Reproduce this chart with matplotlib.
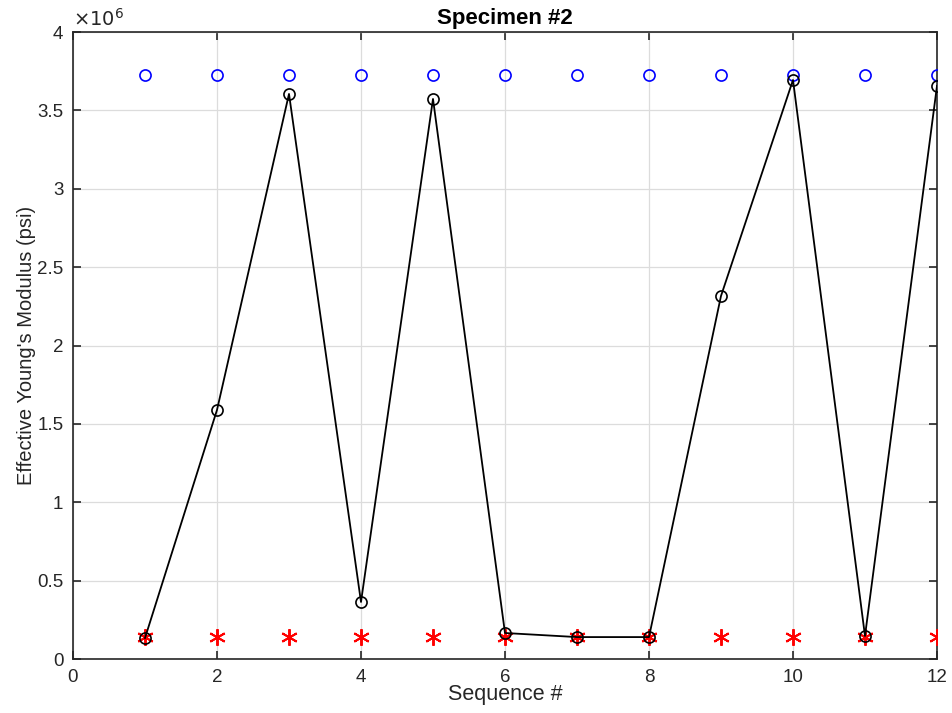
import matplotlib
matplotlib.use("Agg")
import matplotlib.pyplot as plt
from matplotlib.ticker import FuncFormatter

# data
seq = [1, 2, 3, 4, 5, 6, 7, 8, 9, 10, 11, 12]
measured = [0.134e6, 1.589e6, 3.605e6, 0.364e6, 3.573e6, 0.166e6,
            0.140e6, 0.140e6, 2.316e6, 3.694e6, 0.147e6, 3.656e6]
upper = [3.726e6] * 12
lower = [0.140e6] * 12

plt.rcParams['font.family'] = ['Liberation Sans', 'DejaVu Sans']
dark = '#262626'

fig = plt.figure(figsize=(9.53, 7.13), dpi=100)
ax = fig.add_axes([0.0766, 0.0757, 0.9066, 0.8794])

ax.plot(seq, upper, 'o', color='blue', mfc='none', ms=8, mew=1.2, zorder=3)
ax.plot(seq, lower, ls='none', marker=(6, 2, 0), color='red', ms=12, mew=1.4, zorder=3)
ax.plot(seq, measured, '-o', color='black', mfc='none', ms=8, mew=1.2, lw=1.3, zorder=4)

ax.set_xlim(0, 12)
ax.set_ylim(0, 4e6)
ax.set_xticks(range(0, 13, 2))
ax.set_yticks([i * 0.5e6 for i in range(9)])
ax.yaxis.set_major_formatter(FuncFormatter(lambda v, p: '%g' % (v / 1e6)))

ax.grid(True, color='#dcdcdc', lw=0.9)
ax.set_axisbelow(True)
ax.tick_params(direction='in', length=6, width=1.2, top=True, right=True,
               labelsize=13.5, colors=dark, pad=7)
for s in ax.spines.values():
    s.set_color(dark)
    s.set_linewidth(1.2)

ax.set_title('Specimen #2', fontsize=16, fontweight='bold', pad=6)
ax.set_xlabel('Sequence #', fontsize=15.5, color=dark, labelpad=-1)
ax.set_ylabel("Effective Young's Modulus (psi)", fontsize=14.5, color=dark, labelpad=1)
ax.text(0.0, 1.003, r'$\times10^{6}$', transform=ax.transAxes, fontsize=14,
        color=dark, ha='left', va='bottom')

fig.savefig('out.png', dpi=100)
